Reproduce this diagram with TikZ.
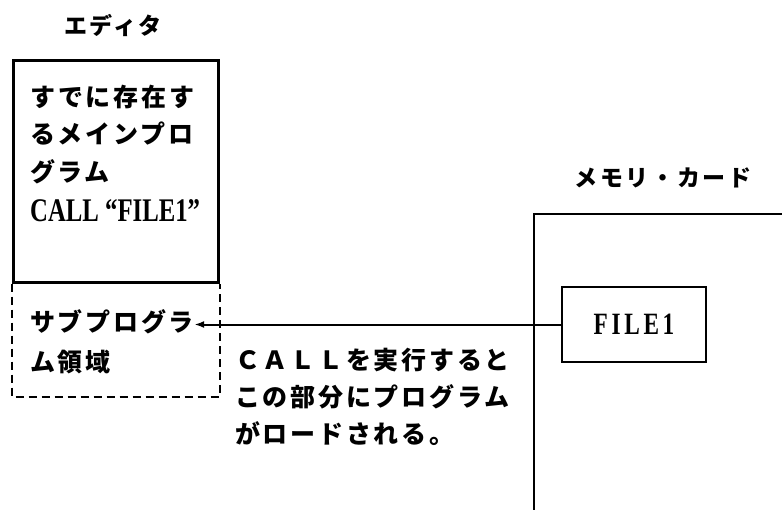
\documentclass[tikz,border=0pt]{standalone}
\usepackage{fontspec}
\newfontfamily\jpfont{Noto Sans CJK JP}[LetterSpace=11]
\newfontfamily\latinfont{Liberation Serif}[FakeStretch=0.75]
\usetikzlibrary{arrows.meta,positioning}

\begin{document}
\begin{tikzpicture}[
    x=1pt, y=-1pt,
    title/.style={font=\jpfont\bfseries\fontsize{23}{26}\selectfont, inner sep=0pt},
    body/.style={font=\jpfont\bfseries\fontsize{25}{37.5}\selectfont, align=left, inner sep=0pt, anchor=base west},
    callfont/.style={font=\latinfont\bfseries\fontsize{33}{37.5}\selectfont},
    box/.style={draw, line width=2pt, inner sep=0pt},
    arrow/.style={-{Latex[length=10pt,width=7pt]}, line width=2pt}
]
\useasboundingbox (0,0) rectangle (782,509);

% editor side
\node[title] (editor) at (113,25) {エディタ};
\node[box, line width=3pt, minimum width=205pt, minimum height=222pt] (main) at (115.5,171) {};
\coordinate[below=113pt of main.south west] (subsw);
\coordinate[below=113pt of main.south east] (subse);
\draw[line width=2pt, dash pattern=on 8pt off 5pt] (main.south west) -- (subsw) -- (subse) -- (main.south east);

% base of a multi-line node is its last line
\node[body] (maintext) at (30,181) {すでに存在す\\るメインプロ\\グラム};
\node[body, callfont] (callline) at (30,221) {CALL “FILE1”};
\node[body] (sub1) at (30,331) {サブプログラ};
\node[body] (sub2) at (30,371) {ム領域};

% memory card side
\node[title] (cardlabel) at (663,178) {メモリ・カード};
\node[draw, line width=2pt, inner sep=0pt, minimum width=320pt, minimum height=320pt, anchor=north west] (card) at (533,213) {};
\node[box, font=\latinfont\bfseries\addfontfeatures{LetterSpace=12}\fontsize{31}{31}\selectfont, minimum width=144pt, minimum height=75pt] (file) at (634,324.5) {FILE1};

\node[body, font=\jpfont\bfseries\fontsize{25}{37}\selectfont] (note) at (235,443) {ＣＡＬＬを実行すると\\この部分にプログラム\\がロードされる。};

\draw[arrow] (file.west) -- (file.west -| sub1.east);
\end{tikzpicture}
\end{document}
